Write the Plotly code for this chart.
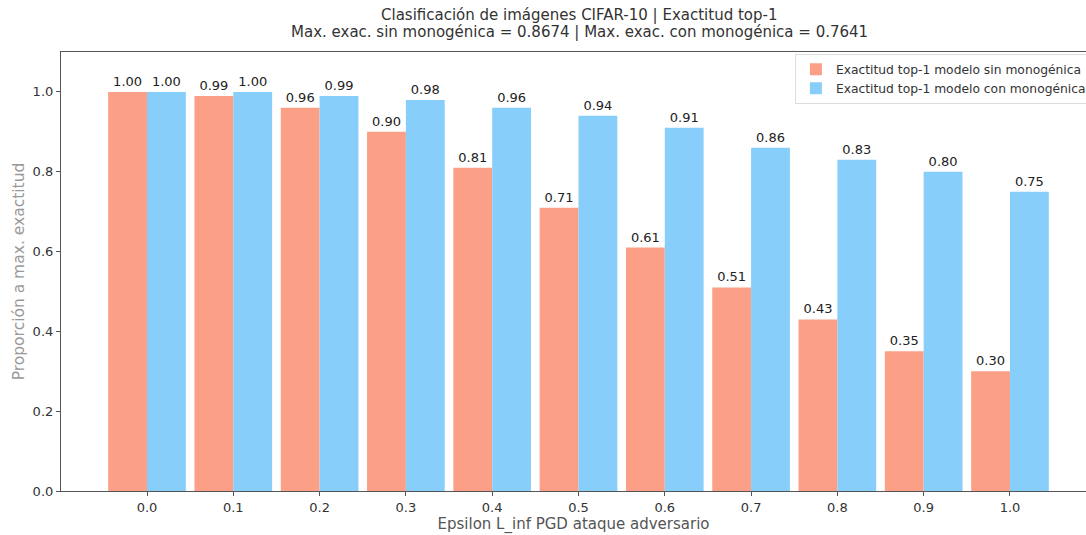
import plotly.graph_objects as go

epsilons = ["0.0", "0.1", "0.2", "0.3", "0.4", "0.5", "0.6", "0.7", "0.8", "0.9", "1.0"]
acc_sin = [1.00, 0.99, 0.96, 0.90, 0.81, 0.71, 0.61, 0.51, 0.43, 0.35, 0.30]
acc_con = [1.00, 1.00, 0.99, 0.98, 0.96, 0.94, 0.91, 0.86, 0.83, 0.80, 0.75]
name_sin = "Exactitud top-1 modelo sin monogénica"
name_con = "Exactitud top-1 modelo con monogénica"
title_lines = ["Clasificación de imágenes CIFAR-10 | Exactitud top-1",
               "Max. exac. sin monogénica = 0.8674 | Max. exac. con monogénica = 0.7641"]

FONT = "DejaVu Sans"
idx = list(range(len(epsilons)))

fig = go.Figure()
for vals, name, color in [(acc_sin, name_sin, "#FBA086"), (acc_con, name_con, "#88CEFA")]:
    fig.add_trace(go.Bar(x=idx, y=vals, name=name, marker_color=color,
                         marker_line_width=0,
                         text=[f"{v:.2f}" for v in vals], textposition="outside",
                         textfont=dict(size=13, color="#222222", family=FONT),
                         cliponaxis=False))

# two-line title above the axes
for line, ypos in zip(title_lines, [1.0843, 1.0456]):
    fig.add_annotation(text=line, xref="paper", yref="paper", x=0.506, y=ypos,
                       xanchor="center", yanchor="middle", showarrow=False,
                       font=dict(size=15, color="#333333", family=FONT))

fig.update_layout(
    width=1086, height=535,
    margin=dict(l=61, r=0, t=52, b=44, autoexpand=False),
    paper_bgcolor="white", plot_bgcolor="white",
    barmode="group", bargap=0.1, bargroupgap=0,
    font=dict(family=FONT, color="#333333", size=13),
    showlegend=True,
    legend=dict(x=0.716, y=0.996, xanchor="left", yanchor="top",
                bgcolor="white", bordercolor="#DDDDDD", borderwidth=1,
                font=dict(size=12.3, color="#333333", family=FONT),
                itemwidth=30, tracegroupgap=0),
    uniformtext=dict(minsize=8, mode="show"),
)
fig.update_xaxes(
    tickmode="array", tickvals=idx, ticktext=epsilons,
    range=[-0.9965, 10.881],
    showline=True, linecolor="#555555", linewidth=1.2, mirror=True,
    ticks="outside", ticklen=4, tickcolor="#555555",
    showgrid=False, zeroline=False,
    tickfont=dict(size=13, color="#333333", family=FONT),
    title=dict(text="Epsilon L_inf PGD ataque adversario", standoff=2,
               font=dict(size=15, color="#555555", family=FONT)),
)
fig.update_yaxes(
    range=[0, 1.1], tickvals=[0.0, 0.2, 0.4, 0.6, 0.8, 1.0],
    ticktext=["0.0", "0.2", "0.4", "0.6", "0.8", "1.0"],
    showline=True, linecolor="#555555", linewidth=1.2,
    ticks="outside", ticklen=4, tickcolor="#555555",
    showgrid=False, zeroline=False,
    tickfont=dict(size=13, color="#333333", family=FONT),
    title=dict(text="Proporción a max. exactitud", standoff=4,
               font=dict(size=15.5, color="#999999", family=FONT)),
)

fig.write_html("out.html")
